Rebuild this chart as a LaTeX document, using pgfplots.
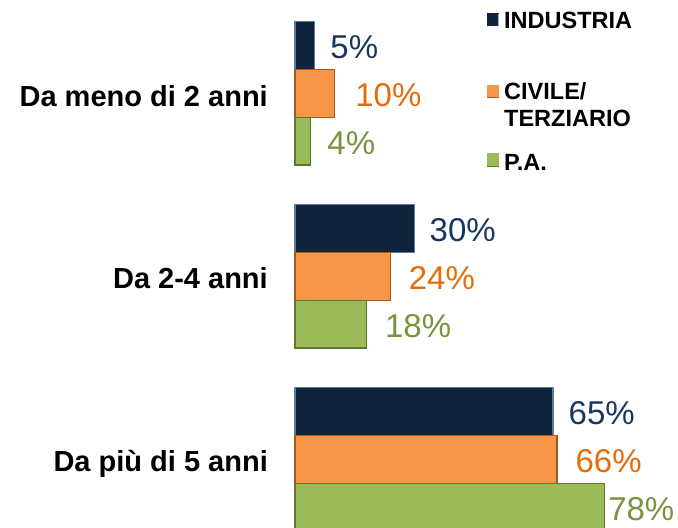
\documentclass[border=0pt]{standalone}
\usepackage{pgfplots}
\pgfplotsset{compat=1.18}
\usepackage{pgfplotstable}
\usepackage{fontspec}
\setmainfont{Liberation Sans}
\definecolor{navyF}{HTML}{10243E}
\definecolor{navyL}{HTML}{17375E}
\definecolor{navyE}{HTML}{8DB4E2}
\definecolor{oraF}{HTML}{F79646}
\definecolor{oraL}{HTML}{E46C0A}
\definecolor{oraE}{HTML}{FBE3CF}
\definecolor{oraD}{HTML}{A5581A}
\definecolor{greF}{HTML}{9BBB59}
\definecolor{greL}{HTML}{77933C}
\definecolor{greE}{HTML}{E0EBC8}
\definecolor{greD}{HTML}{5F7530}

\pgfplotstableread{
cat val dx
0 5 15
1 30 15
2 65 15
}\industria
\pgfplotstableread{
cat val dx
0 10 20
1 24 18
2 66 18
}\civile
\pgfplotstableread{
cat val dx
0 4 16
1 18 18
2 78 3
}\pa

\begin{document}
\begin{tikzpicture}
\useasboundingbox (0,0) rectangle (678bp,528bp);
\begin{axis}[
  at={(295bp,0bp)}, anchor=south west,
  scale only axis, width=383bp, height=528bp,
  xmin=0, xmax=96.47, ymin=-0.5098, ymax=2.3754,
  y dir=reverse, axis lines=none, clip=false,
  xbar, bar width=47.8bp,
  point meta=x,
  nodes near coords={\pgfmathprintnumber[assume math mode=true]{\pgfplotspointmeta}\%},
  visualization depends on={\thisrow{dx} \as \dx},
  every node near coord/.append style={anchor=west, inner sep=0pt, xshift=\dx*1bp, yshift=-2bp, font=\fontsize{33bp}{36bp}\selectfont},
]
\addplot[fill=navyF, draw=navyE!60!navyF, line width=1.2bp, bar shift=47.8bp,
  every node near coord/.append style={text=navyL}]
  table[x=val,y=cat]{\industria};
\addplot[fill=oraF, draw=oraD, line width=1.2bp, bar shift=0bp,
  every node near coord/.append style={text=oraL}]
  table[x=val,y=cat]{\civile};
\addplot[fill=greF, draw=greD, line width=1.2bp, bar shift=-47.8bp,
  every node near coord/.append style={text=greL}]
  table[x=val,y=cat]{\pa};
\end{axis}
% category labels
\begin{scope}[every node/.style={anchor=base east, inner sep=0pt, font=\fontsize{29bp}{34bp}\selectfont\bfseries}]
\node at (268bp,{(528-107)*1bp}) {Da meno di 2 anni};
\node at (268bp,{(528-288)*1bp}) {Da 2-4 anni};
\node at (268bp,{(528-471)*1bp}) {Da più di 5 anni};
\end{scope}
% legend
\fill[navyF] (487bp,{(528-26.5)*1bp}) rectangle (499bp,{(528-13.5)*1bp});
\fill[oraF] (487bp,{(528-98)*1bp}) rectangle (499bp,{(528-85)*1bp});
\fill[greF] (487bp,{(528-166.5)*1bp}) rectangle (499bp,{(528-153.5)*1bp});
\draw[navyE, line width=0.8bp] (498bp,{(528-26)*1bp}) -- (498bp,{(528-14)*1bp});
\draw[oraD, line width=0.8bp] (487bp,{(528-97.5)*1bp}) -- (499bp,{(528-97.5)*1bp});
\draw[greD, line width=0.8bp] (487bp,{(528-166)*1bp}) -- (499bp,{(528-166)*1bp});
\begin{scope}[every node/.style={anchor=base west, inner sep=0pt, font=\fontsize{23.5bp}{26bp}\selectfont\bfseries}]
\node at (504bp,{(528-28.5)*1bp}) {INDUSTRIA};
\node at (504bp,{(528-100)*1bp}) {CIVILE/};
\node at (504bp,{(528-127)*1bp}) {TERZIARIO};
\node at (504bp,{(528-170)*1bp}) {P.A.};
\end{scope}
\end{tikzpicture}
\end{document}
